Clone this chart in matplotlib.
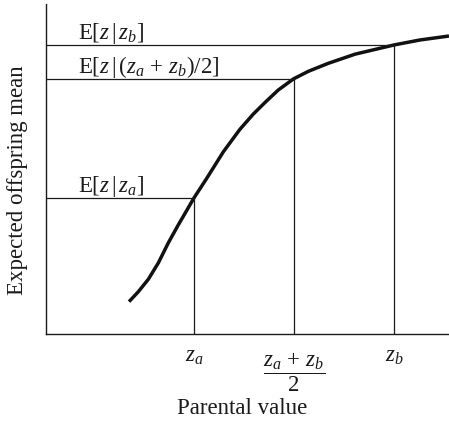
import matplotlib
matplotlib.use("Agg")
import matplotlib.pyplot as plt
import matplotlib.transforms as mtransforms

plt.rcParams['font.family'] = ['Liberation Serif', 'DejaVu Serif']
plt.rcParams['mathtext.fontset'] = 'custom'
plt.rcParams['mathtext.rm'] = 'Liberation Serif'
plt.rcParams['mathtext.it'] = 'Liberation Serif:italic'

# curve (parental value -> expected offspring mean)
curve_x = [2.06, 2.29, 2.54, 2.79, 3.03, 3.28, 3.49, 3.67, 3.99, 4.40,
           4.81, 5.14, 5.43, 5.76, 6.14, 6.51, 7.00, 7.67, 8.64, 9.28, 10.0]
curve_y = [0.98, 1.28, 1.66, 2.16, 2.75, 3.30, 3.74, 4.12, 4.72, 5.52,
           6.20, 6.66, 7.01, 7.39, 7.73, 7.96, 8.20, 8.48, 8.76, 8.91, 9.03]

# marked parental values and their expected offspring means
marks_x = [3.67, 6.15, 8.64]
marks_y = [4.12, 7.73, 8.76]
tick_labels = [r'$z_a$', r'$\dfrac{z_a\, +\, z_b}{2}$', r'$z_b$']
level_labels = [r'$\mathrm{E}[z\,|\,z_a]$',
                r'$\mathrm{E}[z\,|\,(z_a\, +\, z_b)/2]$',
                r'$\mathrm{E}[z\,|\,z_b]$']

ink = '#1a1a1a'
fs = 16.5

fig = plt.figure(figsize=(4.49, 4.21), dpi=100)
ax = fig.add_axes([46 / 449, 1 - 334 / 421, 403 / 449, 330 / 421])
ax.set_xlim(0, 10)
ax.set_ylim(0, 10)

for s in ['top', 'right']:
    ax.spines[s].set_visible(False)
for s in ['left', 'bottom']:
    ax.spines[s].set_linewidth(1.0)
    ax.spines[s].set_color(ink)
ax.set_xticks([])
ax.set_yticks([])

ax.plot(curve_x, curve_y, color='#111111', lw=2.5, solid_capstyle='butt',
        solid_joinstyle='round')

for mx, my in zip(marks_x, marks_y):
    ax.plot([0, mx], [my, my], color=ink, lw=0.9)
    ax.plot([mx, mx], [0, my], color=ink, lw=0.9)

# level labels just above each horizontal line
for my, lab in zip(marks_y, level_labels):
    ax.text(0.79, my + 0.18, lab, fontsize=fs, ha='left', va='baseline',
            color=ink)

# labels under the marked parental values
trans = mtransforms.blended_transform_factory(ax.transData, fig.transFigure)
ax.text(marks_x[0], 1 - 356 / 421, tick_labels[0], transform=trans,
        fontsize=fs, ha='center', va='center', color=ink)
ax.text(marks_x[1], 1 - 372 / 421, tick_labels[1], transform=trans,
        fontsize=fs, ha='center', va='center', color=ink)
ax.text(marks_x[2], 1 - 356 / 421, tick_labels[2], transform=trans,
        fontsize=fs, ha='center', va='center', color=ink)

fig.text(242 / 449, 1 - 408 / 421, 'Parental value', fontsize=fs,
         ha='center', va='center', color=ink)
fig.text(18 / 449, 1 - 180 / 421, 'Expected offspring mean', fontsize=fs,
         ha='center', va='center', rotation=90, color=ink)

fig.savefig('out.png', dpi=100)
